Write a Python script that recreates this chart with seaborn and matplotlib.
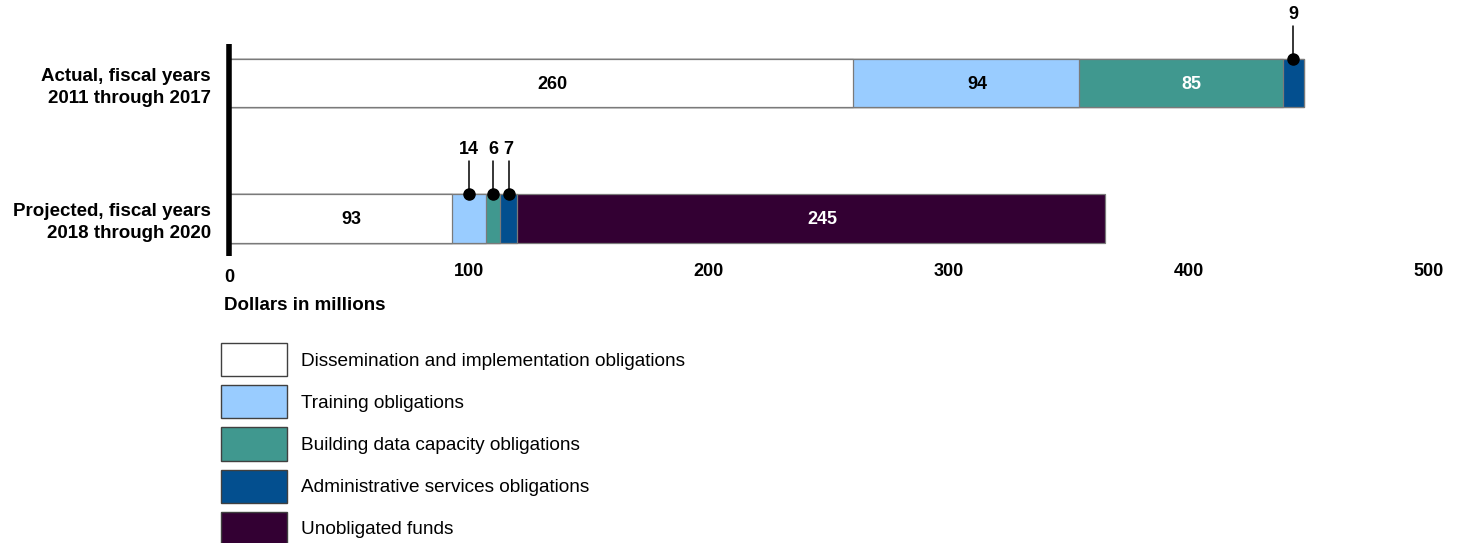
import matplotlib
matplotlib.use("Agg")
import matplotlib.pyplot as plt
import seaborn as sns
import numpy as np
from matplotlib.patches import Patch

# ---- data ----
categories = ["Actual, fiscal years\n2011 through 2017",
              "Projected, fiscal years\n2018 through 2020"]
series_names = ["Dissemination and implementation obligations",
                "Training obligations",
                "Building data capacity obligations",
                "Administrative services obligations",
                "Unobligated funds"]
dissemination = [260, 93]
training = [94, 14]
data_capacity = [85, 6]
admin = [9, 7]
unobligated = [0, 245]
x_ticks = [0, 100, 200, 300, 400, 500]
x_label = "Dollars in millions"

# ---- style ----
colors = ["#FFFFFF", "#99CCFF", "#40988F", "#034F8F", "#330033"]
text_colors = ["black", "black", "white", "white", "white"]

sns.set_theme(style="white")
plt.rcParams["font.family"] = ["Liberation Sans", "DejaVu Sans"]

series = [dissemination, training, data_capacity, admin, unobligated]
cum = np.cumsum(np.array(series, dtype=float), axis=0)

W, H = 1461, 543
fig = plt.figure(figsize=(W / 100, H / 100), dpi=100)
ax = fig.add_axes([229 / W, 1 - 256 / H, 1200 / W, 212 / H])

bar_w = 0.358
for i in reversed(range(len(series))):
    sns.barplot(x=cum[i], y=categories, orient="h", color=colors[i],
                saturation=1, width=bar_w, edgecolor="#7a7a7a",
                linewidth=0.9, errorbar=None, ax=ax)

ax.set_xlim(0, 500)
ax.set_ylim(1.277, -0.288)

# value labels
for i, s in enumerate(series):
    for j in range(len(categories)):
        v = s[j]
        if v == 0:
            continue
        center = cum[i][j] - v / 2
        if v >= 20:
            ax.annotate(str(v), (center, j), xytext=(8, -1),
                        textcoords="offset points", ha="center", va="center",
                        fontsize=13, fontweight="bold", color=text_colors[i])
        else:
            top = j - bar_w / 2
            ax.plot([center, center], [top, top - 0.245], color="black",
                    lw=1.1, clip_on=False, zorder=5)
            ax.plot([center], [top], "o", color="black", ms=8,
                    clip_on=False, zorder=6)
            ax.text(center, top - 0.33, str(v), ha="center", va="center",
                    fontsize=13, fontweight="bold", color="black")

# axes styling
sns.despine(ax=ax, top=True, right=True, left=False, bottom=True)
ax.spines["left"].set_linewidth(4)
ax.spines["left"].set_color("black")
ax.spines["left"].set_capstyle("butt")
ax.set_xlabel("")
ax.set_ylabel("")
ax.set_xticks(x_ticks)
ax.set_xticklabels([str(t) for t in x_ticks], fontsize=13, fontweight="bold")
for lab in ax.get_yticklabels():
    lab.set_fontsize(13.5)
    lab.set_fontweight("bold")
    lab.set_color("black")
    lab.set_linespacing(1.38)
ax.tick_params(axis="x", length=0, pad=5, colors="black")
ax.tick_params(axis="y", length=0, pad=13, colors="black")
ax.xaxis.get_major_ticks()[0].set_pad(9)
ax.grid(False)

fig.text(224 / W, 1 - 305 / H, x_label, ha="left", va="center",
         fontsize=13.5, fontweight="bold", color="black")

handles = [Patch(facecolor=c, edgecolor="#404040", linewidth=1, label=n)
           for c, n in zip(colors, series_names)]
fig.legend(handles=handles, loc="upper left",
           bbox_to_anchor=(221 / W, 1 - 343 / H), frameon=False,
           fontsize=13.7, handlelength=3.45, handleheight=2.31,
           labelspacing=0.47, handletextpad=0.78, borderpad=0,
           borderaxespad=0, labelcolor="black")

fig.savefig("out.png", dpi=100)
